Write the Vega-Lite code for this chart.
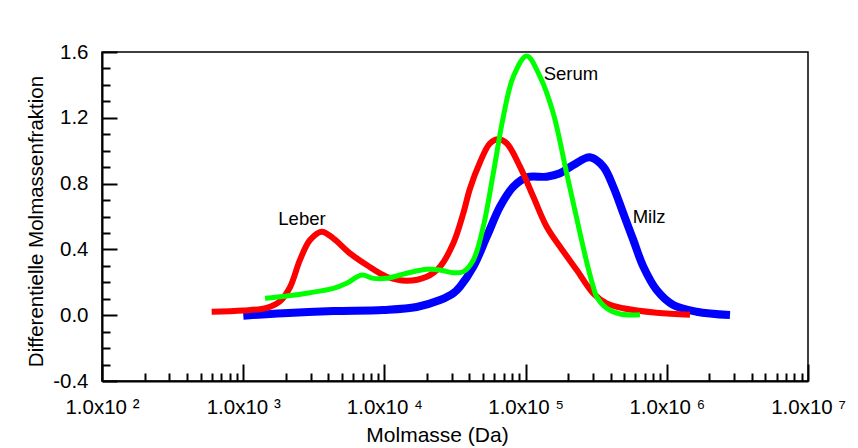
{
  "$schema": "https://vega.github.io/schema/vega-lite/v6.json",
  "width": 706,
  "height": 329,
  "autosize": {"type": "none"},
  "padding": {"left": 102, "top": 52, "right": 50, "bottom": 67},
  "background": "white",
  "config": {
    "view": {"stroke": "black", "strokeWidth": 1.5},
    "font": "Liberation Sans",
    "axis": {
      "grid": false,
      "domainColor": "black",
      "domainWidth": 2,
      "tickColor": "black",
      "tickWidth": 2,
      "labelColor": "black",
      "titleColor": "black",
      "titleFontWeight": "normal",
      "labelFont": "Liberation Sans",
      "titleFont": "Liberation Sans",
      "labelFlush": false,
      "labelOverlap": false
    }
  },
  "datasets": {
    "curves": [
      {"s": "Leber", "m": 598, "v": 0.021},
      {"s": "Leber", "m": 1000, "v": 0.028},
      {"s": "Leber", "m": 1467, "v": 0.045},
      {"s": "Leber", "m": 1822, "v": 0.085},
      {"s": "Leber", "m": 2145, "v": 0.17},
      {"s": "Leber", "m": 2524, "v": 0.336},
      {"s": "Leber", "m": 2972, "v": 0.457},
      {"s": "Leber", "m": 3597, "v": 0.508},
      {"s": "Leber", "m": 4347, "v": 0.467},
      {"s": "Leber", "m": 5705, "v": 0.376},
      {"s": "Leber", "m": 7499, "v": 0.305},
      {"s": "Leber", "m": 10380, "v": 0.234},
      {"s": "Leber", "m": 14390, "v": 0.21},
      {"s": "Leber", "m": 19940, "v": 0.234},
      {"s": "Leber", "m": 24770, "v": 0.295},
      {"s": "Leber", "m": 30760, "v": 0.437},
      {"s": "Leber", "m": 36210, "v": 0.62},
      {"s": "Leber", "m": 40380, "v": 0.77},
      {"s": "Leber", "m": 47530, "v": 0.93},
      {"s": "Leber", "m": 55950, "v": 1.045},
      {"s": "Leber", "m": 64100, "v": 1.069},
      {"s": "Leber", "m": 73470, "v": 1.045},
      {"s": "Leber", "m": 91250, "v": 0.903},
      {"s": "Leber", "m": 113400, "v": 0.72},
      {"s": "Leber", "m": 141000, "v": 0.538},
      {"s": "Leber", "m": 175300, "v": 0.416},
      {"s": "Leber", "m": 230100, "v": 0.275},
      {"s": "Leber", "m": 301500, "v": 0.133},
      {"s": "Leber", "m": 375200, "v": 0.072},
      {"s": "Leber", "m": 492000, "v": 0.042},
      {"s": "Leber", "m": 847800, "v": 0.015},
      {"s": "Leber", "m": 1459000, "v": 0.003},
      {"s": "Serum", "m": 1427, "v": 0.103},
      {"s": "Serum", "m": 2032, "v": 0.117},
      {"s": "Serum", "m": 2972, "v": 0.137},
      {"s": "Serum", "m": 4347, "v": 0.163},
      {"s": "Serum", "m": 5408, "v": 0.194},
      {"s": "Serum", "m": 6906, "v": 0.244},
      {"s": "Serum", "m": 8344, "v": 0.224},
      {"s": "Serum", "m": 10380, "v": 0.224},
      {"s": "Serum", "m": 14390, "v": 0.255},
      {"s": "Serum", "m": 19940, "v": 0.279},
      {"s": "Serum", "m": 24770, "v": 0.275},
      {"s": "Serum", "m": 30760, "v": 0.258},
      {"s": "Serum", "m": 36210, "v": 0.265},
      {"s": "Serum", "m": 42650, "v": 0.336},
      {"s": "Serum", "m": 50140, "v": 0.538},
      {"s": "Serum", "m": 59050, "v": 0.863},
      {"s": "Serum", "m": 69530, "v": 1.207},
      {"s": "Serum", "m": 81830, "v": 1.45},
      {"s": "Serum", "m": 101800, "v": 1.576},
      {"s": "Serum", "m": 126500, "v": 1.45},
      {"s": "Serum", "m": 157100, "v": 1.227},
      {"s": "Serum", "m": 195400, "v": 0.863},
      {"s": "Serum", "m": 242900, "v": 0.498},
      {"s": "Serum", "m": 275000, "v": 0.3},
      {"s": "Serum", "m": 301500, "v": 0.173},
      {"s": "Serum", "m": 318700, "v": 0.112},
      {"s": "Serum", "m": 375200, "v": 0.042},
      {"s": "Serum", "m": 466600, "v": 0.007},
      {"s": "Serum", "m": 645600, "v": 0.003},
      {"s": "Milz", "m": 1002, "v": -0.003},
      {"s": "Milz", "m": 1923, "v": 0.012},
      {"s": "Milz", "m": 4347, "v": 0.025},
      {"s": "Milz", "m": 9817, "v": 0.032},
      {"s": "Milz", "m": 16930, "v": 0.05},
      {"s": "Milz", "m": 24770, "v": 0.092},
      {"s": "Milz", "m": 30760, "v": 0.133},
      {"s": "Milz", "m": 34300, "v": 0.173},
      {"s": "Milz", "m": 42650, "v": 0.295},
      {"s": "Milz", "m": 53060, "v": 0.477},
      {"s": "Milz", "m": 65900, "v": 0.66},
      {"s": "Milz", "m": 81830, "v": 0.781},
      {"s": "Milz", "m": 101800, "v": 0.838},
      {"s": "Milz", "m": 141000, "v": 0.842},
      {"s": "Milz", "m": 175300, "v": 0.863},
      {"s": "Milz", "m": 217800, "v": 0.913},
      {"s": "Milz", "m": 285800, "v": 0.96},
      {"s": "Milz", "m": 354900, "v": 0.903},
      {"s": "Milz", "m": 417800, "v": 0.781},
      {"s": "Milz", "m": 492000, "v": 0.619},
      {"s": "Milz", "m": 579200, "v": 0.457},
      {"s": "Milz", "m": 682000, "v": 0.295},
      {"s": "Milz", "m": 847800, "v": 0.153},
      {"s": "Milz", "m": 1112000, "v": 0.062},
      {"s": "Milz", "m": 1629000, "v": 0.021},
      {"s": "Milz", "m": 2803000, "v": 0.001}
    ],
    "labels": [
      {"t": "Leber", "m": 1773, "v": 0.55},
      {"t": "Serum", "m": 134350, "v": 1.43},
      {"t": "Milz", "m": 573500, "v": 0.562}
    ]
  },
  "encoding": {
    "x": {
      "field": "m",
      "type": "quantitative",
      "scale": {"type": "log", "domain": [100, 10000000], "nice": false},
      "axis": {
        "title": "Molmasse (Da)",
        "values": [100, 200, 300, 400, 500, 600, 700, 800, 900, 1000, 2000, 3000, 4000, 5000, 6000, 7000, 8000, 9000, 10000, 20000, 30000, 40000, 50000, 60000, 70000, 80000, 90000, 100000, 200000, 300000, 400000, 500000, 600000, 700000, 800000, 900000, 1000000, 2000000, 3000000, 4000000, 5000000, 6000000, 7000000, 8000000, 9000000, 10000000],
        "labelExpr": "abs(log(datum.value)/LN10 - round(log(datum.value)/LN10)) < 0.001 ? '1.0x10  ' + ['⁰','¹','²','³','⁴','⁵','⁶','⁷'][round(log(datum.value)/LN10)] : ''",
        "tickSize": {"condition": {"test": "abs(log(datum.value)/LN10 - round(log(datum.value)/LN10)) < 0.001", "value": -17}, "value": -8},
        "labelPadding": 33,
        "labelBaseline": "top",
        "labelFontSize": 20.5,
        "titleFontSize": 21,
        "titleX": 335,
        "titleY": 60,
        "titleBaseline": "alphabetic"
      }
    },
    "y": {
      "field": "v",
      "type": "quantitative",
      "scale": {"domain": [-0.4, 1.6], "nice": false, "zero": false},
      "axis": {
        "title": "Differentielle Molmassenfraktion",
        "values": [-0.4, -0.3, -0.2, -0.1, 0, 0.1, 0.2, 0.3, 0.4, 0.5, 0.6, 0.7, 0.8, 0.9, 1.0, 1.1, 1.2, 1.3, 1.4, 1.5, 1.6],
        "labelExpr": "indexof([-0.4, 0, 0.4, 0.8, 1.2, 1.6], datum.value) >= 0 ? (datum.value < 0 ? '-' : '') + format(abs(datum.value), '.1f') : ''",
        "tickSize": {"condition": {"test": "indexof([-0.4, 0, 0.4, 0.8, 1.2, 1.6], datum.value) >= 0", "value": -15}, "value": -8},
        "labelPadding": 29,
        "labelFontSize": 20.5,
        "titleFontSize": 20.5,
        "titleX": -60,
        "titleY": 169,
        "titleBaseline": "alphabetic",
        "titleAlign": "center",
        "titleAngle": -90
      }
    }
  },
  "layer": [
    {
      "data": {"name": "curves"},
      "transform": [{"filter": "datum.s === 'Milz'"}],
      "mark": {"type": "line", "color": "#0000ff", "strokeWidth": 8, "interpolate": "catmull-rom"}
    },
    {
      "data": {"name": "curves"},
      "transform": [{"filter": "datum.s === 'Leber'"}],
      "mark": {"type": "line", "color": "#ff0000", "strokeWidth": 6, "interpolate": "catmull-rom"}
    },
    {
      "data": {"name": "curves"},
      "transform": [{"filter": "datum.s === 'Serum'"}],
      "mark": {"type": "line", "color": "#00ff00", "strokeWidth": 5, "interpolate": "catmull-rom"}
    },
    {
      "data": {"name": "labels"},
      "mark": {"type": "text", "align": "left", "baseline": "alphabetic", "fontSize": 18.5, "font": "Liberation Sans", "color": "black"},
      "encoding": {"text": {"field": "t"}}
    }
  ]
}
